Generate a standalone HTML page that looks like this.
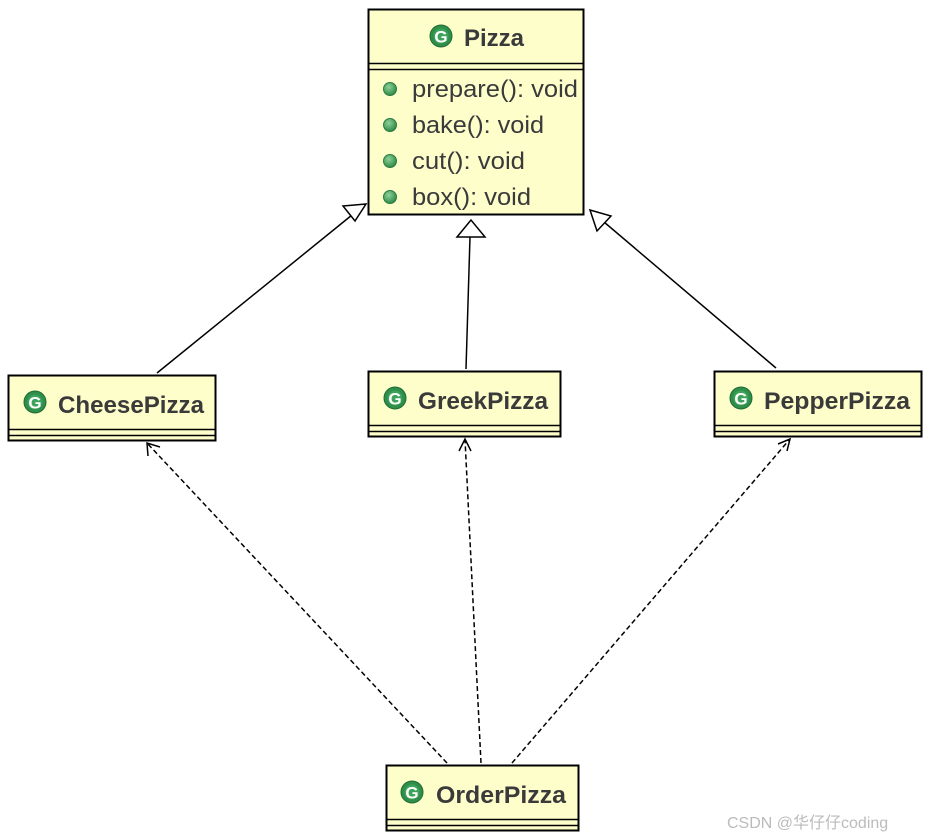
<!DOCTYPE html>
<html><head><meta charset="utf-8"><style>
html,body{margin:0;padding:0;background:#fff;width:931px;height:840px;overflow:hidden}
text{font-family:"Liberation Sans","DejaVu Sans",sans-serif;fill:#3a3a3a}
</style></head><body>
<svg width="931" height="840" viewBox="0 0 931 840" xmlns="http://www.w3.org/2000/svg">
<defs>
<radialGradient id="g" cx="40%" cy="35%" r="65%"><stop offset="0" stop-color="#8fd19a"/><stop offset="1" stop-color="#2e8b46"/></radialGradient>
<g id="cicon"><circle cx="0" cy="0" r="11" fill="#2f8f4a" stroke="#1f6b33" stroke-width="1"/><circle cx="0" cy="0" r="7.5" fill="#3da35a"/><text x="0" y="6.5" text-anchor="middle" font-size="17" font-weight="bold" style="fill:#fff">G</text></g>
<g id="dot"><circle cx="0" cy="0" r="6.5" fill="url(#g)" stroke="#2d7a40" stroke-width="1"/></g>
</defs>

<rect x="368.5" y="9.5" width="215" height="205" fill="#fefecb" stroke="#000" stroke-width="2"/>
<line x1="369" y1="63.5" x2="583" y2="63.5" stroke="#000" stroke-width="1.5"/>
<line x1="369" y1="69.5" x2="583" y2="69.5" stroke="#000" stroke-width="1.5"/>
<use href="#cicon" x="441" y="36"/>
<text x="464" y="46" font-size="24" font-weight="bold" textLength="60" lengthAdjust="spacingAndGlyphs">Pizza</text>
<use href="#dot" x="390" y="89"/><text x="412" y="97" font-size="24" textLength="166" lengthAdjust="spacingAndGlyphs">prepare(): void</text>
<use href="#dot" x="390" y="125"/><text x="412" y="133" font-size="24" textLength="132" lengthAdjust="spacingAndGlyphs">bake(): void</text>
<use href="#dot" x="390" y="161"/><text x="412" y="169" font-size="24" textLength="113" lengthAdjust="spacingAndGlyphs">cut(): void</text>
<use href="#dot" x="390" y="197"/><text x="412" y="205" font-size="24" textLength="119" lengthAdjust="spacingAndGlyphs">box(): void</text>

<rect x="8.5" y="375.5" width="207" height="65" fill="#fefecb" stroke="#000" stroke-width="2"/>
<line x1="9" y1="429.5" x2="215" y2="429.5" stroke="#000" stroke-width="1.5"/>
<line x1="9" y1="435.5" x2="215" y2="435.5" stroke="#000" stroke-width="1.5"/>
<use href="#cicon" x="35" y="402"/>
<text x="58" y="413" font-size="24" font-weight="bold" textLength="146" lengthAdjust="spacingAndGlyphs">CheesePizza</text>

<rect x="368.5" y="371.5" width="192" height="65" fill="#fefecb" stroke="#000" stroke-width="2"/>
<line x1="369" y1="425.5" x2="560" y2="425.5" stroke="#000" stroke-width="1.5"/>
<line x1="369" y1="431.5" x2="560" y2="431.5" stroke="#000" stroke-width="1.5"/>
<use href="#cicon" x="395" y="398"/>
<text x="418" y="409" font-size="24" font-weight="bold" textLength="130" lengthAdjust="spacingAndGlyphs">GreekPizza</text>

<rect x="714.5" y="371.5" width="207" height="65" fill="#fefecb" stroke="#000" stroke-width="2"/>
<line x1="715" y1="425.5" x2="921" y2="425.5" stroke="#000" stroke-width="1.5"/>
<line x1="715" y1="431.5" x2="921" y2="431.5" stroke="#000" stroke-width="1.5"/>
<use href="#cicon" x="741" y="398"/>
<text x="764" y="409" font-size="24" font-weight="bold" textLength="146" lengthAdjust="spacingAndGlyphs">PepperPizza</text>

<rect x="386.5" y="765.5" width="192" height="65" fill="#fefecb" stroke="#000" stroke-width="2"/>
<line x1="387" y1="819.5" x2="578" y2="819.5" stroke="#000" stroke-width="1.5"/>
<line x1="387" y1="825.5" x2="578" y2="825.5" stroke="#000" stroke-width="1.5"/>
<use href="#cicon" x="412" y="792"/>
<text x="436" y="803" font-size="24" font-weight="bold" textLength="130" lengthAdjust="spacingAndGlyphs">OrderPizza</text>

<g stroke="#000" stroke-width="1.5" fill="#fff">
<line x1="157" y1="373" x2="352" y2="215"/>
<polygon points="366,204 343,206 355,221"/>
<line x1="466" y1="369" x2="470" y2="237"/>
<polygon points="471,220 457,237 485,237"/>
<line x1="776" y1="368" x2="604" y2="222"/>
<polygon points="590,210 597,231 611,216"/>
</g>
<g stroke="#000" stroke-width="1.5" fill="none" stroke-dasharray="5,3">
<line x1="447" y1="763" x2="147" y2="443"/>
<line x1="481" y1="763" x2="465" y2="439"/>
<line x1="512" y1="763" x2="790" y2="439"/>
</g>
<g stroke="#000" stroke-width="1.5" fill="none">
<polyline points="148,456 147,443 160,447"/>
<polyline points="459,451 465,439 471,451"/>
<polyline points="778,444 790,439 787,451"/>
</g>
<text x="727" y="828" font-size="16" style="fill:#bbb">CSDN @华仔仔coding</text>
</svg>
</body></html>
